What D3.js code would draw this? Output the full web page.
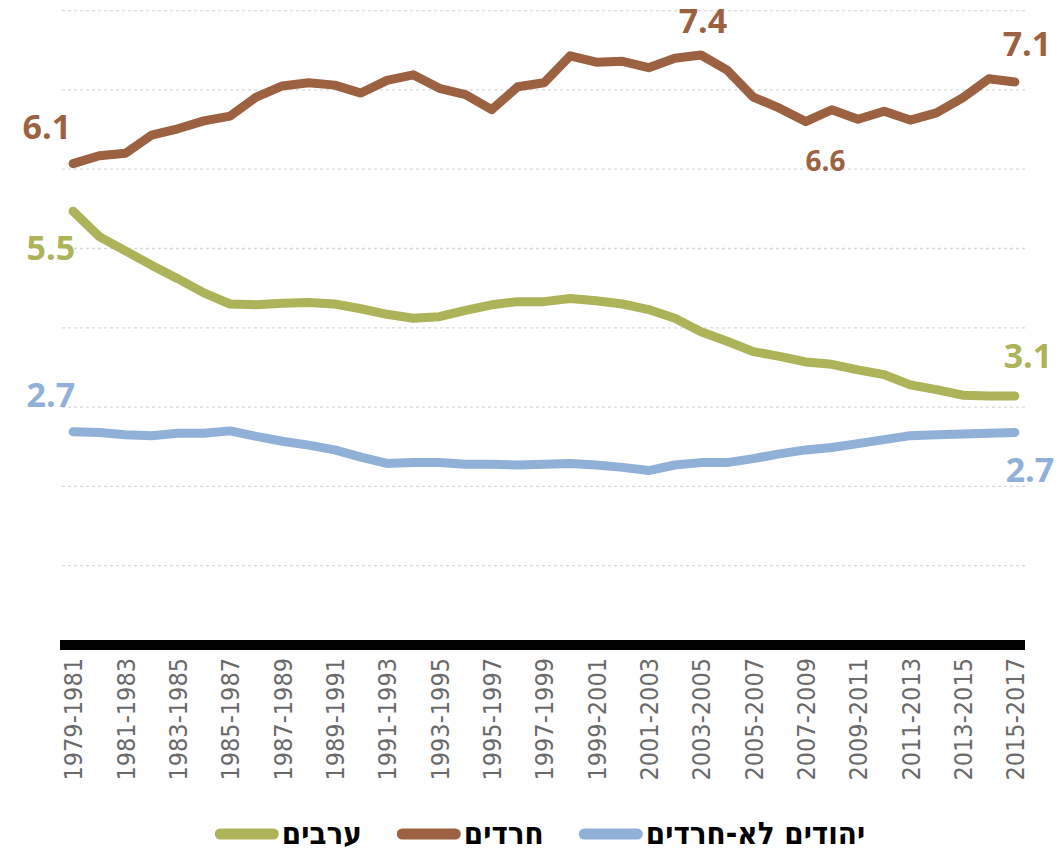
<!DOCTYPE html>
<html>
<head>
<meta charset="utf-8">
<script src="https://cdn.jsdelivr.net/npm/d3@7"></script>
<style>
  body { margin: 0; background: #fff; }
  svg { display: block; }
</style>
</head>
<body>
<svg id="chart" width="1058" height="851"></svg>
<script>
// categories (3-year periods)
const periods = [
  "1979-1981", "1980-1982", "1981-1983", "1982-1984", "1983-1985", "1984-1986",
  "1985-1987", "1986-1988", "1987-1989", "1988-1990", "1989-1991", "1990-1992",
  "1991-1993", "1992-1994", "1993-1995", "1994-1996", "1995-1997", "1996-1998",
  "1997-1999", "1998-2000", "1999-2001", "2000-2002", "2001-2003", "2002-2004",
  "2003-2005", "2004-2006", "2005-2007", "2006-2008", "2007-2009", "2008-2010",
  "2009-2011", "2010-2012", "2011-2013", "2012-2014", "2013-2015", "2014-2016",
  "2015-2017"
]

// series values
const haredim = [
  6.07, 6.17, 6.20, 6.43, 6.51, 6.61, 6.67, 6.91, 7.05, 7.09, 7.06, 6.96,
  7.12, 7.19, 7.02, 6.94, 6.75, 7.04, 7.09, 7.43, 7.35, 7.36, 7.28, 7.40,
  7.44, 7.25, 6.91, 6.77, 6.60, 6.75, 6.63, 6.73, 6.62, 6.71, 6.90, 7.14, 7.10
]
const arabs = [
  5.47, 5.15, 4.97, 4.79, 4.62, 4.44, 4.30, 4.29, 4.31, 4.32, 4.30, 4.24,
  4.17, 4.12, 4.14, 4.22, 4.29, 4.33, 4.33, 4.37, 4.34, 4.30, 4.23, 4.12,
  3.95, 3.83, 3.70, 3.64, 3.57, 3.54, 3.47, 3.41, 3.28, 3.22, 3.15, 3.14, 3.14
]
const jewsNonHaredi = [
  2.69, 2.68, 2.65, 2.64, 2.67, 2.67, 2.70, 2.63, 2.57, 2.52, 2.46, 2.37,
  2.29, 2.30, 2.30, 2.28, 2.28, 2.27, 2.28, 2.29, 2.27, 2.24, 2.20, 2.27,
  2.30, 2.30, 2.35, 2.41, 2.46, 2.49, 2.54, 2.59, 2.64, 2.65, 2.66, 2.67, 2.68
]

// y grid values
const gridValues = [1, 2, 3, 4, 5, 6, 7, 8]

// legend order, left to right as drawn
const legendNames = ["ערבים", "חרדים", "יהודים לא-חרדים"]

const colors = {
  arabs: "#adb358",
  haredim: "#9c6141",
  jews: "#91b0d8"
}

const series = [
  {key: "jews", values: jewsNonHaredi},
  {key: "arabs", values: arabs},
  {key: "haredim", values: haredim}
]

const svg = d3.select("#chart")

const x = d3.scalePoint()
  .domain(periods)
  .range([60, 1028])
  .padding(0.5)

const y = d3.scaleLinear()
  .domain([0, 8])
  .range([645, 10.6])

// gridlines
svg.append("g")
  .attr("class", "grid")
  .selectAll("line")
  .data(gridValues)
  .enter()
  .append("line")
  .attr("x1", 62)
  .attr("x2", 1025)
  .attr("y1", d => y(d))
  .attr("y2", d => y(d))
  .attr("stroke", "#d9d9d9")
  .attr("stroke-width", 1.3)
  .attr("stroke-dasharray", "3,3")

// x axis - thick black baseline + rotated labels
const xAxis = svg.append("g")
  .attr("id", "xAxis")
  .attr("transform", "translate(0," + y(0) + ")")
  .call(d3.axisBottom(x)
    .tickValues(periods.filter((d, i) => i % 2 === 0))
    .tickSize(0)
    .tickPadding(0))

xAxis.select(".domain").remove()
xAxis.insert("line", ":first-child")
  .attr("x1", 60)
  .attr("x2", 1025)
  .attr("y1", 0)
  .attr("y2", 0)
  .attr("stroke", "#000")
  .attr("stroke-width", 10)

xAxis.selectAll(".tick text")
  .attr("transform", "rotate(-90)")
  .attr("text-anchor", "end")
  .attr("x", -13)
  .attr("y", 0)
  .attr("dy", "0.35em")
  .attr("fill", "#6a6a6a")
  .style("font-family", "'Liberation Sans Narrow', 'DejaVu Sans Condensed', sans-serif")
  .style("font-size", "25px")

// lines
const line = d3.line()
  .x((d, i) => x(periods[i]))
  .y(d => y(d))

svg.append("g")
  .attr("id", "lines")
  .selectAll("path")
  .data(series)
  .enter()
  .append("path")
  .attr("d", d => line(d.values))
  .attr("fill", "none")
  .attr("stroke", d => colors[d.key])
  .attr("stroke-width", 9)
  .attr("stroke-linecap", "round")
  .attr("stroke-linejoin", "round")

// value labels
const fmt = d3.format(".1f")
const last = periods.length - 1
const minIdx = d3.minIndex(haredim.slice(20)) + 20
const maxIdx = d3.maxIndex(haredim)

const labels = [
  {v: haredim[0], i: 0, c: colors.haredim, dx: -2, dy: -25, anchor: "end", size: 34},
  {v: arabs[0], i: 0, c: colors.arabs, dx: 2, dy: 49, anchor: "end", size: 34},
  {v: jewsNonHaredi[0], i: 0, c: colors.jews, dx: 2, dy: -25, anchor: "end", size: 34},
  {v: haredim[maxIdx], i: maxIdx, c: colors.haredim, dx: 2, dy: -22, anchor: "middle", size: 34},
  {v: haredim[minIdx], i: minIdx, c: colors.haredim, dx: 20, dy: 49, anchor: "middle", size: 28},
  {v: haredim[last], i: last, c: colors.haredim, dx: 12, dy: -26, anchor: "middle", size: 34},
  {v: arabs[last], i: last, c: colors.arabs, dx: 13, dy: -28, anchor: "middle", size: 34},
  {v: jewsNonHaredi[last], i: last, c: colors.jews, dx: 15, dy: 50, anchor: "middle", size: 34}
]

svg.append("g")
  .attr("id", "labels")
  .selectAll("text")
  .data(labels)
  .enter()
  .append("text")
  .attr("x", d => x(periods[d.i]) + d.dx)
  .attr("y", d => y(d.v) + d.dy)
  .attr("text-anchor", d => d.anchor)
  .attr("fill", d => d.c)
  .style("font-family", "'Open Sans', sans-serif")
  .style("font-weight", "bold")
  .style("font-size", d => d.size + "px")
  .text(d => fmt(d.v))

// legend
const legendColors = [colors.arabs, colors.haredim, colors.jews]
const legend = svg.append("g").attr("id", "legend")
const swW = 64, swH = 11, gapText = 3, gapItem = 35
let cx = 0
legendNames.forEach(function (name, i) {
  legend.append("rect")
    .attr("x", cx)
    .attr("y", -swH / 2)
    .attr("width", swW)
    .attr("height", swH)
    .attr("rx", swH / 2)
    .attr("fill", legendColors[i])
  cx += swW + gapText
  const t = legend.append("text")
    .attr("x", cx)
    .attr("y", 10)
    .attr("text-anchor", "start")
    .attr("fill", "#000")
    .style("font-family", "'Liberation Sans Narrow', 'DejaVu Sans Condensed', sans-serif")
    .style("font-weight", "bold")
    .style("font-size", "31px")
    .text(name)
  cx += t.node().getComputedTextLength() + gapItem
})
cx -= gapItem
legend.attr("transform", "translate(" + (540 - cx / 2) + ",834)")
</script>
</body>
</html>
